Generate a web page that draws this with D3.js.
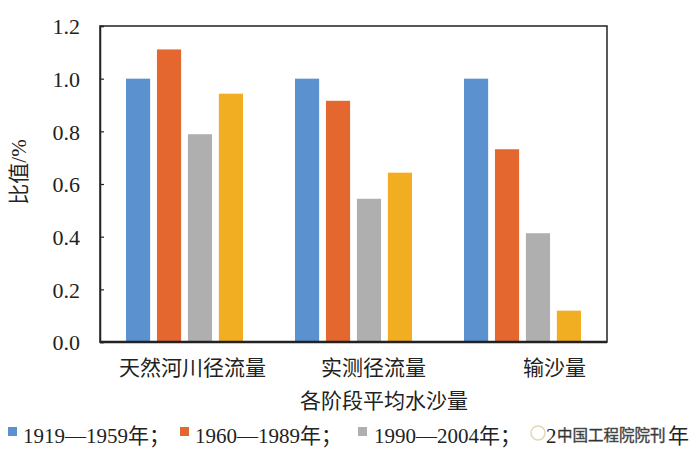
<!DOCTYPE html>
<html>
<head>
<meta charset="utf-8">
<script src="https://cdn.jsdelivr.net/npm/d3@7"></script>
<style>
  body { margin: 0; background: #fff; }
  text { font-family: "Liberation Serif", "Noto Sans CJK SC", serif; fill: #222; }
</style>
</head>
<body>
<div id="chart"></div>
<script>
var categories = ["天然河川径流量", "实测径流量", "输沙量"];
var periods = ["1919—1959年；", "1960—1989年；", "1990—2004年；"];
var colors = ["#5b91cf", "#e4672f", "#afafaf", "#f2ae22"];
var s1919 = [1.0, 1.0, 1.0];
var s1960 = [1.111, 0.916, 0.732];
var s1990 = [0.789, 0.544, 0.413];
var s2005 = [0.943, 0.643, 0.119];
var yTicks = [0, 0.2, 0.4, 0.6, 0.8, 1.0, 1.2];

var series = [s1919, s1960, s1990, s2005];

var width = 700, height = 465;
var mLeft = 100, mRight = 607, mTop = 26, mBottom = 342;

var svg = d3.select("#chart").append("svg")
  .attr("width", width)
  .attr("height", height);

var x = d3.scaleBand().domain(categories).range([mLeft, mRight]);
var xInner = d3.scaleBand().domain(d3.range(4)).range([26, 143]).paddingInner(0.22);
var xLabel = d3.scaleBand().domain(categories).range([mLeft + 2, mLeft + 545]);
var y = d3.scaleLinear().domain([0, 1.2]).range([mBottom, mTop]);

// bars
series.forEach(function(vals, si) {
  svg.append("g").selectAll("rect")
    .data(vals)
    .enter().append("rect")
    .attr("x", function(d, i) { return x(categories[i]) + xInner(si); })
    .attr("width", xInner.bandwidth())
    .attr("y", function(d) { return y(d); })
    .attr("height", function(d) { return y(0) - y(d); })
    .attr("fill", colors[si]);
});

// frame
svg.append("rect")
  .attr("x", mLeft).attr("y", mTop)
  .attr("width", mRight - mLeft).attr("height", mBottom - mTop)
  .attr("fill", "none").attr("stroke", "#222").attr("stroke-width", 1.5);

// y axis, ticks pointing inward
var yAxis = svg.append("g")
  .attr("transform", "translate(" + mLeft + ",0)")
  .call(d3.axisRight(y).tickValues(yTicks).tickSize(4).tickFormat(d3.format(".1f")));
yAxis.select(".domain").attr("stroke", "#222").attr("stroke-width", 1.5);
yAxis.selectAll(".tick line").attr("stroke", "#222").attr("stroke-width", 1.2);
yAxis.selectAll(".tick text")
  .attr("x", -20)
  .attr("dy", "0.35em")
  .attr("text-anchor", "end")
  .style("font-size", "22px")
  .style("font-family", "Liberation Serif")
  .attr("fill", "#222");

svg.append("line")
  .attr("x1", mLeft).attr("x2", mRight).attr("y1", mBottom).attr("y2", mBottom)
  .attr("stroke", "#222").attr("stroke-width", 2.5);

// category labels
svg.append("g").selectAll("text")
  .data(categories)
  .enter().append("text")
  .attr("x", function(d) { return xLabel(d) + xLabel.bandwidth() / 2; })
  .attr("y", 375)
  .attr("text-anchor", "middle")
  .style("font-size", "21px")
  .text(function(d) { return d; });

// axis titles
svg.append("text")
  .attr("x", 384).attr("y", 408)
  .attr("text-anchor", "middle")
  .style("font-size", "21px")
  .text("各阶段平均水沙量");

svg.append("text")
  .attr("transform", "translate(26,172) rotate(-90)")
  .attr("text-anchor", "middle")
  .style("font-size", "21px")
  .text("比值/%");

// legend
var legendX = [8, 180, 358];
var legend = svg.append("g");
periods.forEach(function(p, i) {
  legend.append("rect")
    .attr("x", legendX[i]).attr("y", 427)
    .attr("width", 9).attr("height", 9)
    .attr("fill", colors[i]);
  legend.append("text")
    .attr("x", legendX[i] + (i == 2 ? 16 : 15)).attr("y", 443)
    .style("font-size", "21px")
    .text(p);
});

// fourth entry mostly hidden under the watermark
legend.append("text").attr("x", 546).attr("y", 443).style("font-size", "21px").text("2");
legend.append("text").attr("x", 668).attr("y", 443).style("font-size", "21px").text("年");

// watermark
svg.append("circle")
  .attr("cx", 538).attr("cy", 433).attr("r", 7)
  .attr("fill", "none").attr("stroke", "#e2d6b8").attr("stroke-width", 1.5);
svg.append("text")
  .attr("x", 557).attr("y", 441)
  .style("font-size", "15.5px")
  .style("font-family", "Noto Sans CJK SC")
  .attr("fill", "#e4e4e4")
  .attr("stroke", "#666").attr("stroke-width", 0.45)
  .text("中国工程院院刊");
</script>
</body>
</html>
